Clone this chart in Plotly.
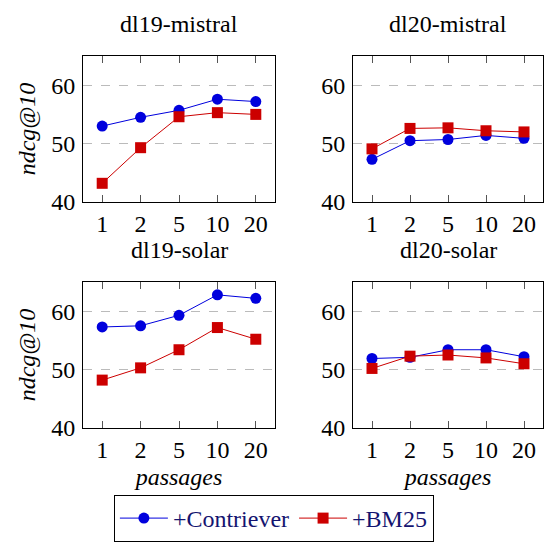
import plotly.graph_objects as go
from plotly.subplots import make_subplots

# data
passages = ["1", "2", "5", "10", "20"]
panels = ["dl19-mistral", "dl20-mistral", "dl19-solar", "dl20-solar"]

contriever_dl19_mistral = [53.0, 54.5, 55.7, 57.6, 57.2]
bm25_dl19_mistral = [43.2, 49.3, 54.6, 55.3, 55.0]
contriever_dl20_mistral = [47.3, 50.5, 50.7, 51.4, 50.9]
bm25_dl20_mistral = [49.1, 52.6, 52.7, 52.2, 52.0]
contriever_dl19_solar = [57.3, 57.5, 59.3, 62.8, 62.2]
bm25_dl19_solar = [48.2, 50.3, 53.4, 57.2, 55.2]
contriever_dl20_solar = [51.9, 52.1, 53.4, 53.4, 52.2]
bm25_dl20_solar = [50.2, 52.3, 52.5, 52.0, 51.0]

contriever = [contriever_dl19_mistral, contriever_dl20_mistral,
              contriever_dl19_solar, contriever_dl20_solar]
bm25 = [bm25_dl19_mistral, bm25_dl20_mistral, bm25_dl19_solar, bm25_dl20_solar]

BLUE = "#0000dd"
RED = "#cc0000"
FONT = "Liberation Serif, Times New Roman, DejaVu Serif, serif"
W, H = 550, 545

fig = make_subplots(rows=2, cols=2)
idx = list(range(len(passages)))

for k in range(4):
    r, c = k // 2 + 1, k % 2 + 1
    fig.add_trace(go.Scatter(x=idx, y=contriever[k], mode="lines+markers", name="+Contriever",
                             line=dict(color=BLUE, width=1),
                             marker=dict(symbol="circle", size=11, color=BLUE),
                             showlegend=(k == 0)), row=r, col=c)
    fig.add_trace(go.Scatter(x=idx, y=bm25[k], mode="lines+markers", name="+BM25",
                             line=dict(color=RED, width=1),
                             marker=dict(symbol="square", size=11, color=RED),
                             showlegend=(k == 0)), row=r, col=c)

# panel placement in pixels (left, right, top, bottom, title centre)
boxes = [(83, 275, 56, 202, 24), (353, 543, 56, 202, 24),
         (83, 275, 282, 428, 250), (353, 543, 282, 428, 250)]

for k, (x0, x1, y0, y1, ty) in enumerate(boxes):
    r, c = k // 2 + 1, k % 2 + 1
    fig.update_xaxes(domain=[x0 / W, x1 / W], range=[-0.5, 4.5], automargin=False,
                     tickvals=idx, ticktext=passages,
                     ticks="inside", ticklen=7, tickcolor="#555555",
                     showline=True, linecolor="black", linewidth=1, mirror="allticks",
                     showgrid=False, zeroline=False, ticklabelstandoff=0,
                     tickfont=dict(family=FONT, size=24, color="black"),
                     row=r, col=c)
    fig.update_yaxes(domain=[1 - y1 / H, 1 - y0 / H], range=[40, 65], automargin=False,
                     tickvals=[40, 50, 60],
                     ticks="inside", ticklen=0,
                     showline=True, linecolor="black", linewidth=1, mirror=True,
                     showgrid=True, gridcolor="#bbbbbb", griddash="dash", gridwidth=1,
                     zeroline=False, ticklabelstandoff=2,
                     tickfont=dict(family=FONT, size=24, color="black"),
                     row=r, col=c)
    fig.add_annotation(text=panels[k], x=(x0 + x1) / 2 / W, y=1 - ty / H,
                       xref="paper", yref="paper", xanchor="center", yanchor="middle",
                       showarrow=False, font=dict(family=FONT, size=24, color="black"))

for r in (1, 2):
    fig.update_yaxes(title_text="<i>ndcg@10</i>", title_standoff=8,
                     title_font=dict(family=FONT, size=24, color="black"), row=r, col=1)
for c in (1, 2):
    fig.update_xaxes(title_text="<i>passages</i>", title_standoff=6,
                     title_font=dict(family=FONT, size=24, color="black"), row=2, col=c)

fig.update_layout(
    width=W, height=H,
    margin=dict(l=0, r=0, t=0, b=0),
    paper_bgcolor="white", plot_bgcolor="white",
    legend=dict(orientation="h", x=0.498, xanchor="center", y=1 - 542 / H, yanchor="bottom",
                bordercolor="black", borderwidth=1, bgcolor="white",
                font=dict(family=FONT, size=24, color="#141470"),
                itemwidth=48, tracegroupgap=0),
)

# page body has a default 8px margin, drop it so the figure sits at 0,0
fig.write_html("out.html", config={"displayModeBar": False},
               post_script="document.body.style.margin='0';")
